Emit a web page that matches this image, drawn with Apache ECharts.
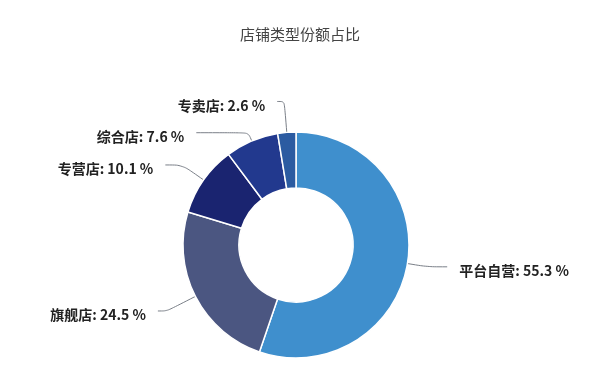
<!DOCTYPE html>
<html><head><meta charset="utf-8">
<script src="https://cdn.jsdelivr.net/npm/echarts@6/dist/echarts.min.js"></script>
<style>html,body{margin:0;padding:0;background:#fff}#c{width:600px;height:374px}</style>
</head><body><div id="c"></div>
<script>
const categories = ['平台自营','旗舰店','专营店','综合店','专卖店'];
const shares = [55.3, 24.5, 10.1, 7.6, 2.6];
const colors = ['#3f8fcd','#4b5681','#1a2470','#22398e','#2b5ba1'];
const lineLen1 = [20, 32, 26, 9, 31];
const lineLen2 = [20, 9, 17, 52, 7];
const titleText = '店铺类型份额占比';

const chart = echarts.init(document.getElementById('c'));
chart.setOption({
  backgroundColor: '#fff',
  title: { text: titleText, left: 'center', top: 22,
    textStyle: { fontSize: 15, fontWeight: 'normal', color: '#444', fontFamily: 'Noto Sans CJK SC' } },
  series: [{
    type: 'pie',
    center: [296, 245],
    radius: [57, 113],
    startAngle: 90,
    clockwise: true,
    avoidLabelOverlap: false,
    itemStyle: { borderColor: '#fff', borderWidth: 1.5 },
    label: {
      formatter: '{s| }\n{t|{b}: {c} %}',
      distanceToLabelLine: 12,
      rich: {
        s: { lineHeight: 8, fontSize: 8 },
        t: { fontSize: 14, lineHeight: 16, fontWeight: 'bold', color: '#222', fontFamily: 'Noto Sans CJK SC' }
      }
    },
    labelLine: { smooth: 0.3, lineStyle: { color: '#7a7f88', width: 1 } },
    data: categories.map((n, i) => ({ name: n, value: shares[i], itemStyle: { color: colors[i] },
      labelLine: { length: lineLen1[i], length2: lineLen2[i] } }))
  }]
});
</script></body></html>
